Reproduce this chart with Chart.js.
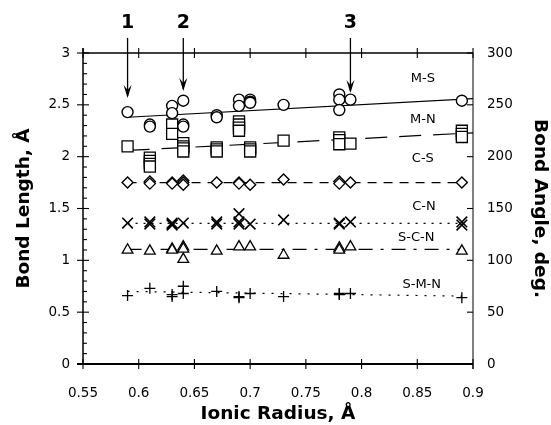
<!DOCTYPE html>
<html lang="en">
<head>
  <meta charset="UTF-8" />
  <title>Bond length vs ionic radius</title>
  <script src="https://cdn.jsdelivr.net/npm/chart.js"></script>
  <style>
    body { margin: 0; background: #fff; overflow: hidden; }
  </style>
</head>
<body>
  <canvas id="chart" width="551" height="425"></canvas>
  <script>
    // axis ticks
    const xTicks = [0.55, 0.6, 0.65, 0.7, 0.75, 0.8, 0.85, 0.9];
    const xTickLabels = ['0.55', '0.6', '0.65', '0.7', '0.75', '0.8', '0.85', '0.9'];
    const yTicks = [0, 0.5, 1, 1.5, 2, 2.5, 3];
    const yTickLabels = ['0', '0.5', '1', '1.5', '2', '2.5', '3'];
    const y2Ticks = [0, 50, 100, 150, 200, 250, 300];
    const y2TickLabels = ['0', '50', '100', '150', '200', '250', '300'];

    // M-S (circles)
    const msX = [0.59, 0.61, 0.61, 0.63, 0.63, 0.64, 0.64, 0.64, 0.67, 0.67, 0.69, 0.69, 0.70, 0.70, 0.70, 0.73, 0.78, 0.78, 0.78, 0.79, 0.89];
    const msY = [2.43, 2.31, 2.29, 2.49, 2.42, 2.54, 2.31, 2.29, 2.40, 2.38, 2.55, 2.49, 2.55, 2.53, 2.52, 2.50, 2.60, 2.55, 2.45, 2.55, 2.54];
    // M-N (squares)
    const mnX = [0.59, 0.61, 0.61, 0.61, 0.61, 0.63, 0.63, 0.64, 0.64, 0.64, 0.64, 0.67, 0.67, 0.67, 0.69, 0.69, 0.69, 0.69, 0.70, 0.70, 0.70, 0.73, 0.78, 0.78, 0.78, 0.79, 0.89, 0.89, 0.89];
    const mnY = [2.10, 1.99, 1.96, 1.93, 1.905, 2.31, 2.22, 2.13, 2.10, 2.08, 2.05, 2.09, 2.07, 2.05, 2.34, 2.31, 2.28, 2.25, 2.09, 2.07, 2.05, 2.155, 2.185, 2.16, 2.12, 2.125, 2.25, 2.22, 2.19];
    // C-S (diamonds)
    const csX = [0.59, 0.61, 0.61, 0.63, 0.63, 0.64, 0.64, 0.64, 0.67, 0.69, 0.69, 0.70, 0.73, 0.78, 0.78, 0.79, 0.89];
    const csY = [1.75, 1.76, 1.74, 1.75, 1.74, 1.77, 1.75, 1.73, 1.75, 1.75, 1.74, 1.73, 1.78, 1.76, 1.74, 1.75, 1.75];
    // C-N (crosses)
    const cnX = [0.59, 0.61, 0.61, 0.63, 0.63, 0.63, 0.64, 0.67, 0.67, 0.69, 0.69, 0.69, 0.70, 0.73, 0.78, 0.78, 0.79, 0.89, 0.89];
    const cnY = [1.36, 1.37, 1.35, 1.36, 1.34, 1.35, 1.36, 1.37, 1.35, 1.45, 1.37, 1.35, 1.35, 1.39, 1.36, 1.35, 1.37, 1.37, 1.34];
    // S-C-N (triangles)
    const scnX = [0.59, 0.61, 0.63, 0.63, 0.64, 0.64, 0.64, 0.67, 0.69, 0.70, 0.73, 0.78, 0.78, 0.79, 0.89];
    const scnY = [1.10, 1.09, 1.11, 1.10, 1.13, 1.11, 1.01, 1.09, 1.13, 1.13, 1.05, 1.12, 1.10, 1.13, 1.09];
    // S-M-N (plus)
    const smnX = [0.59, 0.61, 0.63, 0.63, 0.64, 0.64, 0.67, 0.69, 0.69, 0.70, 0.73, 0.78, 0.78, 0.79, 0.89];
    const smnY = [0.66, 0.73, 0.65, 0.67, 0.75, 0.68, 0.70, 0.64, 0.65, 0.68, 0.65, 0.68, 0.67, 0.68, 0.64];

    // trend lines (end points)
    const fitX = [0.59, 0.9];
    const fitShortX = [0.59, 0.89];
    const fitMS = [2.38, 2.56];
    const fitMN = [2.06, 2.23];
    const fitCS = [1.75, 1.75];
    const fitCN = [1.357, 1.357];
    const fitSCN = [1.105, 1.105];
    const fitSMN = [0.70, 0.655];

    const seriesNames = ['M-S', 'M-N', 'C-S', 'C-N', 'S-C-N', 'S-M-N'];
    const arrowNames = ['1', '2', '3'];
    const arrowX = [0.59, 0.64, 0.79];
    const arrowTipY = [2.566, 2.633, 2.614];

    const pts = (xs, ys) => xs.map((v, i) => ({ x: v, y: ys[i] }));

    function marks(label, xs, ys, style, radius, bw) {
      return {
        label: label,
        data: pts(xs, ys),
        pointStyle: style,
        pointRadius: radius,
        pointBorderWidth: bw,
        pointBackgroundColor: '#fff',
        pointBorderColor: '#000',
        showLine: false,
        order: 0
      };
    }
    function fit(xs, ys, dash) {
      return {
        data: pts(xs, ys),
        showLine: true,
        borderColor: '#000',
        borderWidth: 1.2,
        borderDash: dash,
        pointRadius: 0,
        fill: false,
        order: 1
      };
    }

    const tickFont = { family: 'DejaVu Sans', size: 13.5 };
    const titleFont = { family: 'DejaVu Sans', size: 18.5, weight: 'bold' };

    // frame, tick marks, arrows and series names
    const decorPlugin = {
      id: 'decor',
      afterDraw(chart) {
        const { ctx, chartArea: a, scales: { x, y, y2 } } = chart;
        const seg = (x1, y1, x2, y2_) => { ctx.beginPath(); ctx.moveTo(x1, y1); ctx.lineTo(x2, y2_); ctx.stroke(); };
        ctx.save();
        ctx.strokeStyle = '#000';
        ctx.fillStyle = '#000';

        ctx.lineWidth = 1.5;
        seg(a.left, a.top - 5, a.left, a.bottom);
        ctx.lineWidth = 1.8;
        seg(a.left - 6, a.bottom, a.right, a.bottom);
        ctx.lineWidth = 1.3;
        seg(a.left, a.top, a.right, a.top);
        ctx.lineWidth = 1;
        seg(a.right, a.top, a.right, a.bottom + 5);

        // x ticks, top and bottom
        ctx.lineWidth = 1.1;
        xTicks.forEach(v => {
          const px = x.getPixelForValue(v);
          seg(px, a.bottom - 5, px, a.bottom + 5);
          seg(px, a.top - 5, px, a.top + 5);
        });
        // left ticks, major crossing, minor inward
        yTicks.forEach(v => {
          const py = y.getPixelForValue(v);
          seg(a.left - 6, py, a.left + 6, py);
        });
        for (let k = 1; k < 30; k++) {
          if (k % 5 === 0) continue;
          const py = y.getPixelForValue(k / 10);
          seg(a.left, py, a.left + 4, py);
        }
        // right ticks, inward
        y2Ticks.forEach(v => {
          const py = y2.getPixelForValue(v);
          seg(a.right - 6, py, a.right, py);
        });

        // arrows
        ctx.lineWidth = 1.3;
        ctx.font = 'bold 19px "DejaVu Sans"';
        ctx.textAlign = 'center';
        ctx.textBaseline = 'middle';
        arrowX.forEach((v, i) => {
          const px = x.getPixelForValue(v);
          const tip = y.getPixelForValue(arrowTipY[i]);
          const top = y.getPixelForValue(3.145);
          seg(px, top, px, tip - 2);
          ctx.beginPath();
          ctx.moveTo(px - 4, tip - 13);
          ctx.lineTo(px, tip);
          ctx.lineTo(px + 4, tip - 13);
          ctx.lineTo(px, tip - 8);
          ctx.closePath();
          ctx.fill();
          ctx.fillText(arrowNames[i], px, y.getPixelForValue(3.29));
        });

        // series names
        const nameX = [0.855, 0.855, 0.855, 0.856, 0.849, 0.854];
        const nameY = [2.749, 2.354, 1.977, 1.514, 1.215, 0.762];
        ctx.font = '13px "DejaVu Sans"';
        seriesNames.forEach((n, i) => {
          ctx.fillText(n, x.getPixelForValue(nameX[i]), y.getPixelForValue(nameY[i]));
        });
        ctx.restore();
      }
    };

    new Chart(document.getElementById('chart'), {
      type: 'scatter',
      data: {
        datasets: [
          marks('M-S', msX, msY, 'circle', 5.5, 1.4),
          marks('M-N', mnX, mnY, 'rect', 7.8, 1.3),
          marks('C-S', csX, csY, 'rectRot', 5.5, 1.4),
          marks('C-N', cnX, cnY, 'crossRot', 7.5, 1.6),
          marks('S-C-N', scnX, scnY, 'triangle', 6.2, 1.3),
          marks('S-M-N', smnX, smnY, 'cross', 5.5, 1.3),
          fit(fitX, fitMS, []),
          fit(fitX, fitMN, [22, 12]),
          fit(fitShortX, fitCS, [9, 7]),
          fit(fitShortX, fitCN, [2, 6]),
          fit(fitShortX, fitSCN, [14, 8, 3, 8]),
          fit(fitShortX, fitSMN, [2, 7])
        ]
      },
      options: {
        responsive: false,
        animation: false,
        layout: { padding: { top: 53, left: 0, right: 0, bottom: 0 } },
        plugins: { legend: { display: false }, tooltip: { enabled: false } },
        scales: {
          x: {
            type: 'linear',
            position: 'bottom',
            min: 0.55,
            max: 0.9,
            afterBuildTicks: s => { s.ticks = xTicks.map(v => ({ value: v })); },
            afterFit: s => { s.height = 61; },
            grid: { display: false, drawTicks: false },
            border: { display: false },
            ticks: { color: '#000', font: tickFont, padding: 21, maxRotation: 0, autoSkip: false,
                     callback: (v, i) => xTickLabels[i] },
            title: { display: true, text: 'Ionic Radius, Å', color: '#000', font: titleFont, padding: { top: 0, bottom: 0 } }
          },
          y: {
            type: 'linear',
            position: 'left',
            min: 0,
            max: 3,
            afterBuildTicks: s => { s.ticks = yTicks.map(v => ({ value: v })); },
            afterFit: s => { s.width = 83; },
            grid: { display: false, drawTicks: false },
            border: { display: false },
            ticks: { color: '#000', font: tickFont, padding: 13, autoSkip: false,
                     callback: (v, i) => yTickLabels[i] },
            title: { display: true, text: 'Bond Length, Å', color: '#000', font: titleFont, padding: { top: 13, bottom: 0 } }
          },
          y2: {
            type: 'linear',
            position: 'right',
            min: 0,
            max: 300,
            afterBuildTicks: s => { s.ticks = y2Ticks.map(v => ({ value: v })); },
            afterFit: s => { s.width = 78; },
            grid: { display: false, drawTicks: false },
            border: { display: false },
            ticks: { color: '#000', font: tickFont, padding: 14, autoSkip: false,
                     callback: (v, i) => y2TickLabels[i] },
            title: { display: true, text: 'Bond Angle, deg.', color: '#000', font: titleFont, padding: { top: 0, bottom: 0 } }
          }
        }
      },
      plugins: [decorPlugin]
    });
  </script>
</body>
</html>
